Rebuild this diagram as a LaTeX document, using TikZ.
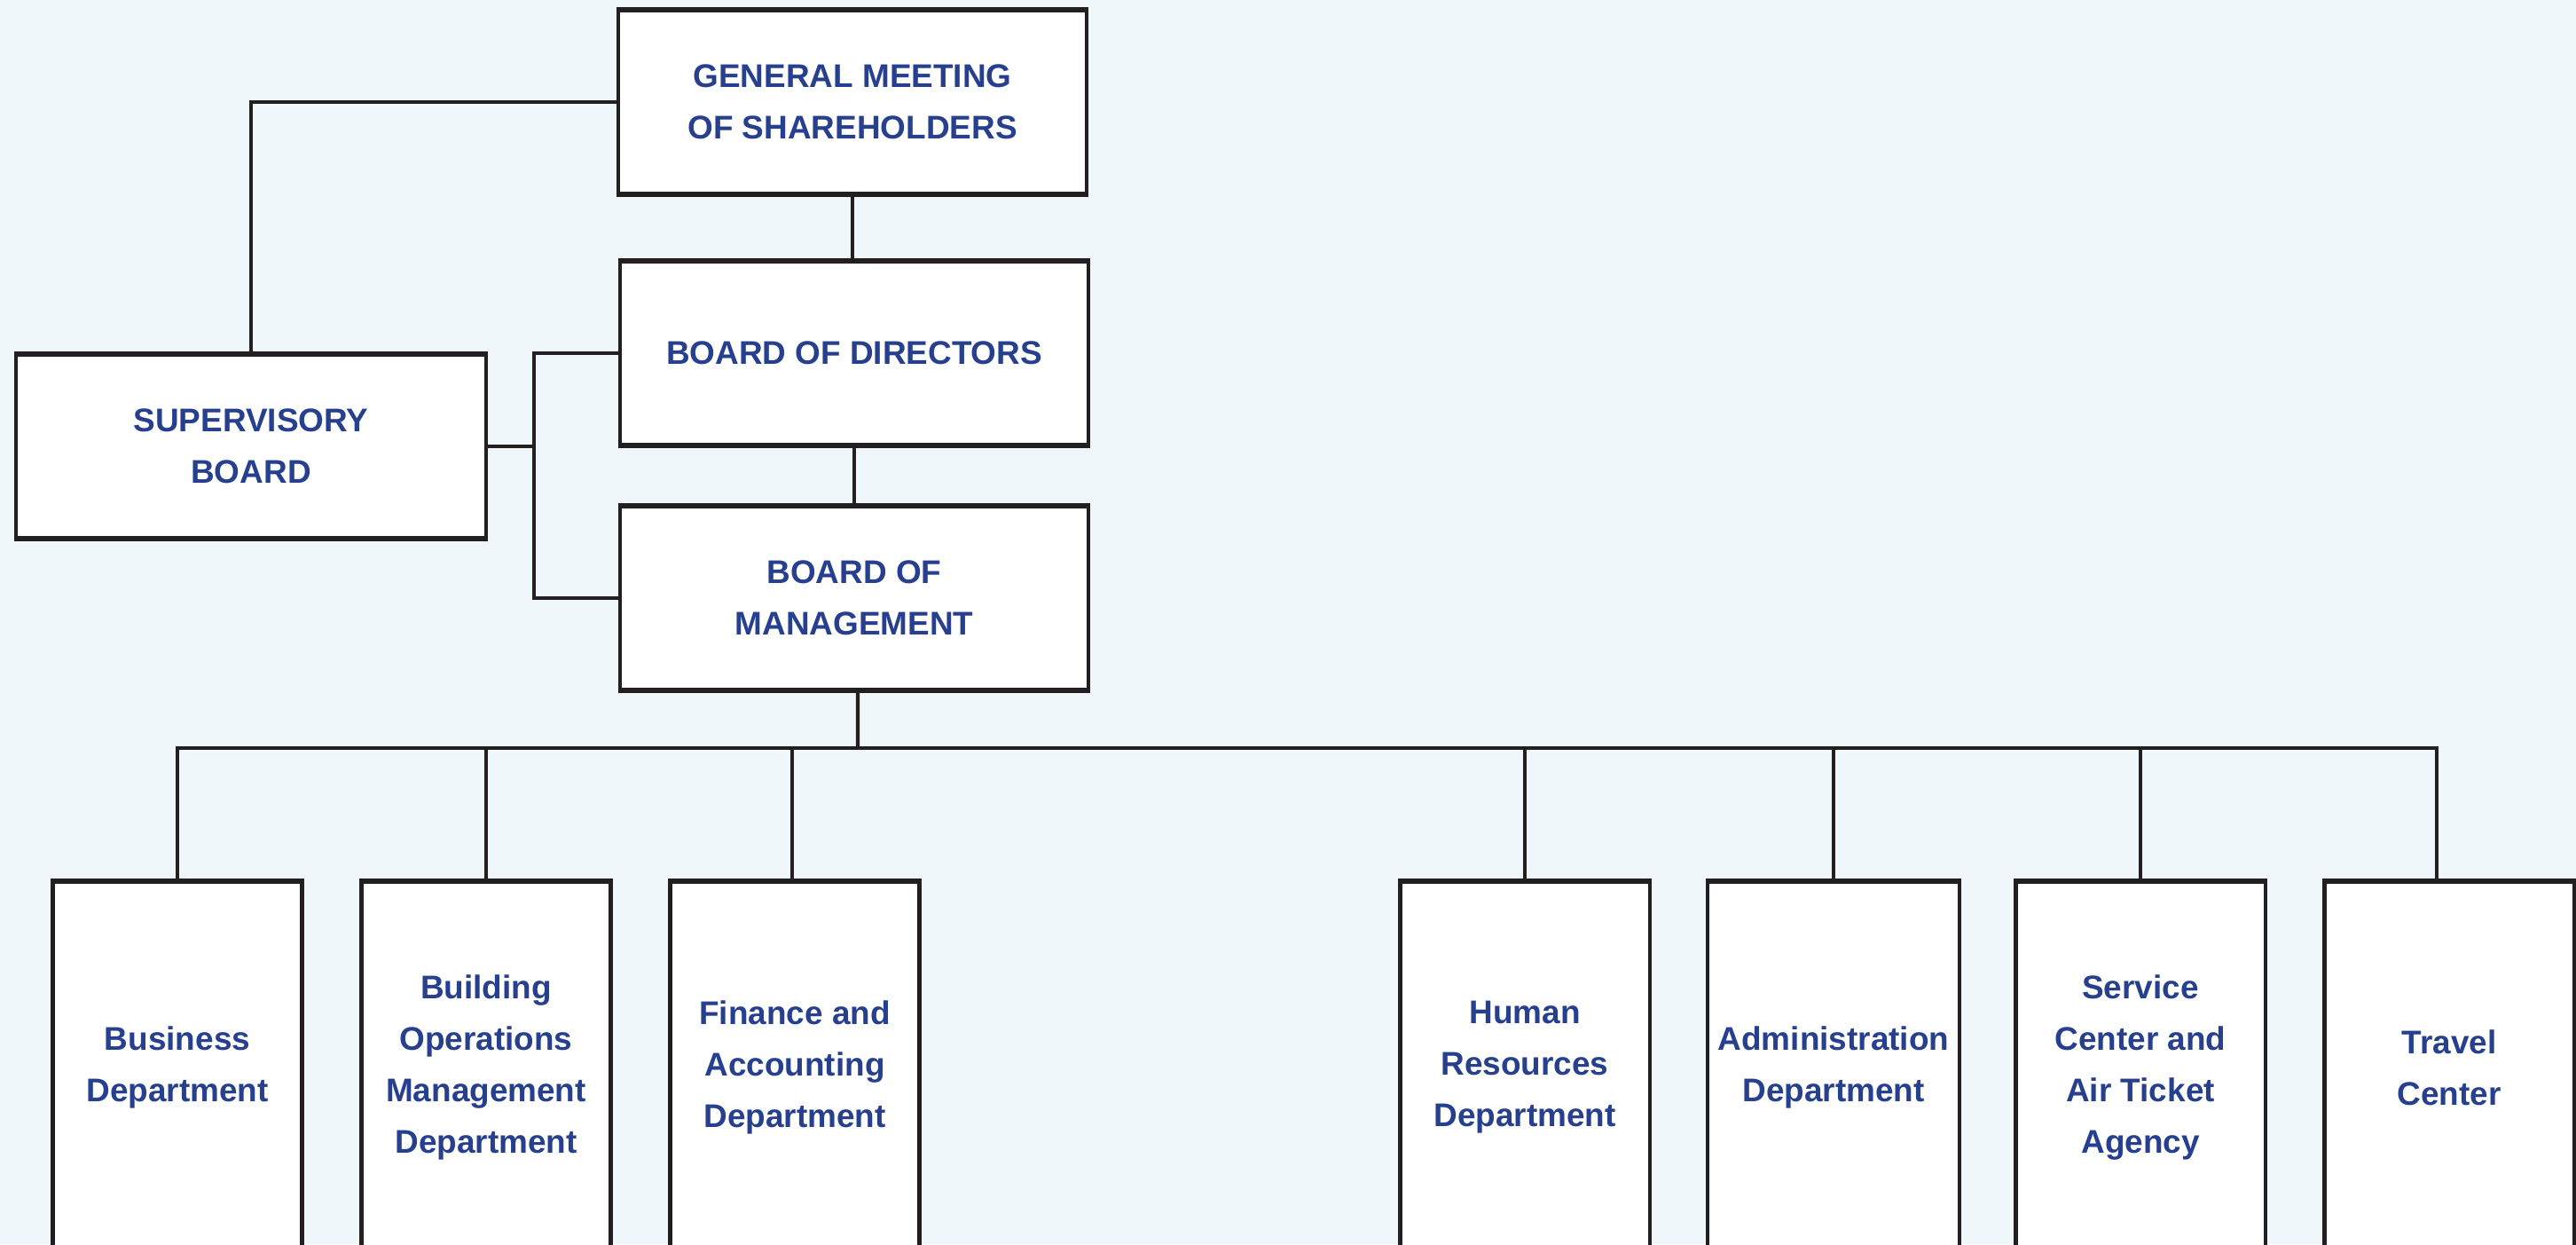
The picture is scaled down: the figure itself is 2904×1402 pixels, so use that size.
\documentclass[tikz,border=0pt]{standalone}
\usepackage{fontspec}
\setmainfont{Liberation Sans}
\usepackage{tikz}
\usetikzlibrary{calc}
\usetikzlibrary{positioning}

\definecolor{bgblue}{HTML}{F0F7FA}
\definecolor{textblue}{HTML}{263F8E}
\definecolor{linegray}{HTML}{231F20}

\begin{document}
\begin{tikzpicture}[
		x=0.01cm, y=-0.01cm,
		box/.style={rectangle,draw=linegray,fill=white,line width=1.2pt,outer sep=0pt,
			text=textblue,align=center,
			font=\fontsize{10.5pt}{16.5pt}\selectfont\bfseries},
		board/.style={box,minimum width=5.28cm,minimum height=2.08cm},
		dept/.style={box,minimum width=2.81cm,minimum height=4.2cm},
		link/.style={draw=linegray,line width=1.25pt},
		edge/.style={draw=linegray,line width=1.8pt}
		]
		\fill[bgblue] (0,0) rectangle (2904,1402);
		\useasboundingbox (0,0) rectangle (2904,1402);
		\clip (0,0) rectangle (2904,1402);

		% boards
		\node[board] (gm) at (961,115) {GENERAL MEETING\\OF SHAREHOLDERS};
		\node[board] (bod) at (963,398) {BOARD OF DIRECTORS};
		\node[board] (bom) at (963,674) {BOARD OF\\MANAGEMENT};
		\node[board,minimum width=5.30cm] (sb) at (283,503) {SUPERVISORY\\BOARD};

		% departments
		\node[dept] (business) at (200,1203) {Business\\Department};
		\node[dept] (building) at (548,1203) {Building\\Operations\\Management\\Department};
		\node[dept] (finance) at (896,1203) {Finance and\\Accounting\\Department};
		\node[dept] (hr) at (1719,1203) {Human\\Resources\\Department};
		\node[dept] (admin) at (2067,1203) {Administration\\Department};
		\node[dept] (service) at (2413,1203) {Service\\Center and\\Air Ticket\\Agency};
		\node[dept] (travel) at (2761,1203) {Travel\\Center};

		\coordinate (bus) at (967,843);
		\coordinate (sbx) at (602,503);

		% connectors
		\draw[link] (gm.south) -- (gm.south |- bod.north);
		\draw[link] (bod.south) -- (bom.north);
		\draw[link] (gm.west) -| (sb.north);
		\draw[link] (sb.east) -- (sbx);
		\draw[link] (bod.west) -| (sbx) |- (bom.west);
		\draw[link] ([xshift=0.04cm]bom.south) -- (bus);
		\foreach \n in {business,building,hr,admin,service}
			\draw[link] (\n.north) |- (bus);
		\draw[link] ([xshift=-0.03cm]finance.north) |- (bus);
		\draw[link] ([xshift=-0.14cm]travel.north) |- (bus);

		% heavier top and bottom edges on the boxes
		\foreach \n in {gm,bod,bom,sb,business,building,finance,hr,admin,service,travel} {
			\draw[edge] ([xshift=-0.6pt]\n.north west) -- ([xshift=0.6pt]\n.north east);
			\draw[edge] ([xshift=-0.6pt]\n.south west) -- ([xshift=0.6pt]\n.south east);
		}
	\end{tikzpicture}
\end{document}
